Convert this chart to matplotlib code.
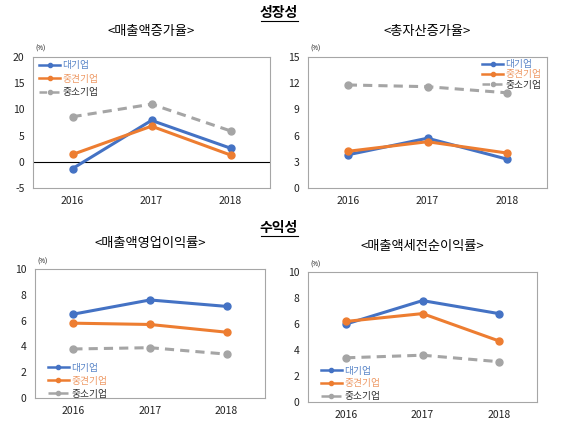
import matplotlib
matplotlib.use("Agg")
import matplotlib.pyplot as plt

plt.rcParams['font.family'] = ['Noto Sans CJK KR', 'DejaVu Sans']
plt.rcParams['axes.unicode_minus'] = False

years = ['2016', '2017', '2018']
series_names = ['대기업', '중견기업', '중소기업']

# 성장성
sales_growth = {
    '대기업': [-1.3, 7.9, 2.6],
    '중견기업': [1.4, 6.8, 1.3],
    '중소기업': [8.6, 11.0, 5.9],
}
asset_growth = {
    '대기업': [3.8, 5.7, 3.3],
    '중견기업': [4.2, 5.3, 4.0],
    '중소기업': [11.8, 11.6, 10.9],
}
# 수익성
op_margin = {
    '대기업': [6.5, 7.6, 7.1],
    '중견기업': [5.8, 5.7, 5.1],
    '중소기업': [3.8, 3.9, 3.4],
}
pretax_margin = {
    '대기업': [6.0, 7.8, 6.8],
    '중견기업': [6.2, 6.8, 4.7],
    '중소기업': [3.4, 3.6, 3.1],
}

line_colors = {'대기업': '#4472C4', '중견기업': '#ED7D31', '중소기업': '#A5A5A5'}
text_colors = {'대기업': '#5B86C8', '중견기업': '#EE9A66', '중소기업': '#333333'}
line_styles = {'대기업': '-', '중견기업': '-', '중소기업': '--'}

W, H = 570, 429
fig = plt.figure(figsize=(W / 100, H / 100), dpi=100)


def px_axes(x0, y0, x1, y1):
    return fig.add_axes([x0 / W, 1 - y1 / H, (x1 - x0) / W, (y1 - y0) / H])


def draw_panel(box, title, data, ylim, yticks, legend_loc, legend_anchor,
               zero_line=False, spacing=0.25):
    ax = px_axes(*box)
    x = range(len(years))
    for name in series_names:
        ax.plot(x, data[name], color=line_colors[name], ls=line_styles[name],
                lw=2.2, marker='o', ms=5, label=name,
                dashes=(3, 2) if line_styles[name] == '--' else (None, None))
    if zero_line:
        ax.axhline(0, color='black', lw=0.8, zorder=0)
    ax.set_xlim(-0.5, 2.5)
    ax.set_ylim(*ylim)
    ax.set_yticks(yticks)
    ax.set_xticks(list(x))
    ax.set_xticklabels(years)
    ax.tick_params(length=0, labelsize=7.5, pad=6, colors='#222222')
    ax.tick_params(axis='x', pad=6)
    for s in ax.spines.values():
        s.set_color('#A6A6A6')
        s.set_linewidth(0.8)
    ax.text(0.01, 1.03, '(%)', transform=ax.transAxes, fontsize=4.5, ha='left', va='bottom')
    ax.set_title(title, fontsize=9.5, pad=16)
    leg = ax.legend(loc=legend_loc, bbox_to_anchor=legend_anchor, frameon=False,
                    fontsize=7, handlelength=2.2, handletextpad=0.2,
                    labelspacing=spacing, borderaxespad=0.2, markerscale=0.6)
    for t in leg.get_texts():
        t.set_color(text_colors[t.get_text()])
    for ln in leg.get_lines():
        ln.set_linewidth(1.8)
    return ax


draw_panel((33, 57, 270, 188), '<매출액증가율>', sales_growth, (-5, 20),
           [-5, 0, 5, 10, 15, 20], 'upper left', (0.0, 1.02), zero_line=True, spacing=0.35)
draw_panel((308, 57, 547, 188), '<총자산증가율>', asset_growth, (0, 15),
           [0, 3, 6, 9, 12, 15], 'upper right', (1.0, 1.03), spacing=0.05)
draw_panel((35, 269, 265, 398), '<매출액영업이익률>', op_margin, (0, 10),
           [0, 2, 4, 6, 8, 10], 'lower left', (0.03, -0.05), spacing=0.3)
draw_panel((308, 272, 537, 402), '<매출액세전순이익률>', pretax_margin, (0, 10),
           [0, 2, 4, 6, 8, 10], 'lower left', (0.03, -0.04), spacing=0.3)

for label, ypx in [('성장성', 13), ('수익성', 228)]:
    t = fig.text(279 / W, 1 - ypx / H, label, fontsize=10, fontweight='bold',
                 ha='center', va='center')
    fig.lines.append(plt.Line2D([261 / W, 298 / W], [1 - (ypx + 8) / H] * 2,
                                color='black', lw=0.8, transform=fig.transFigure))

fig.savefig('out.png', dpi=100, facecolor='white')
